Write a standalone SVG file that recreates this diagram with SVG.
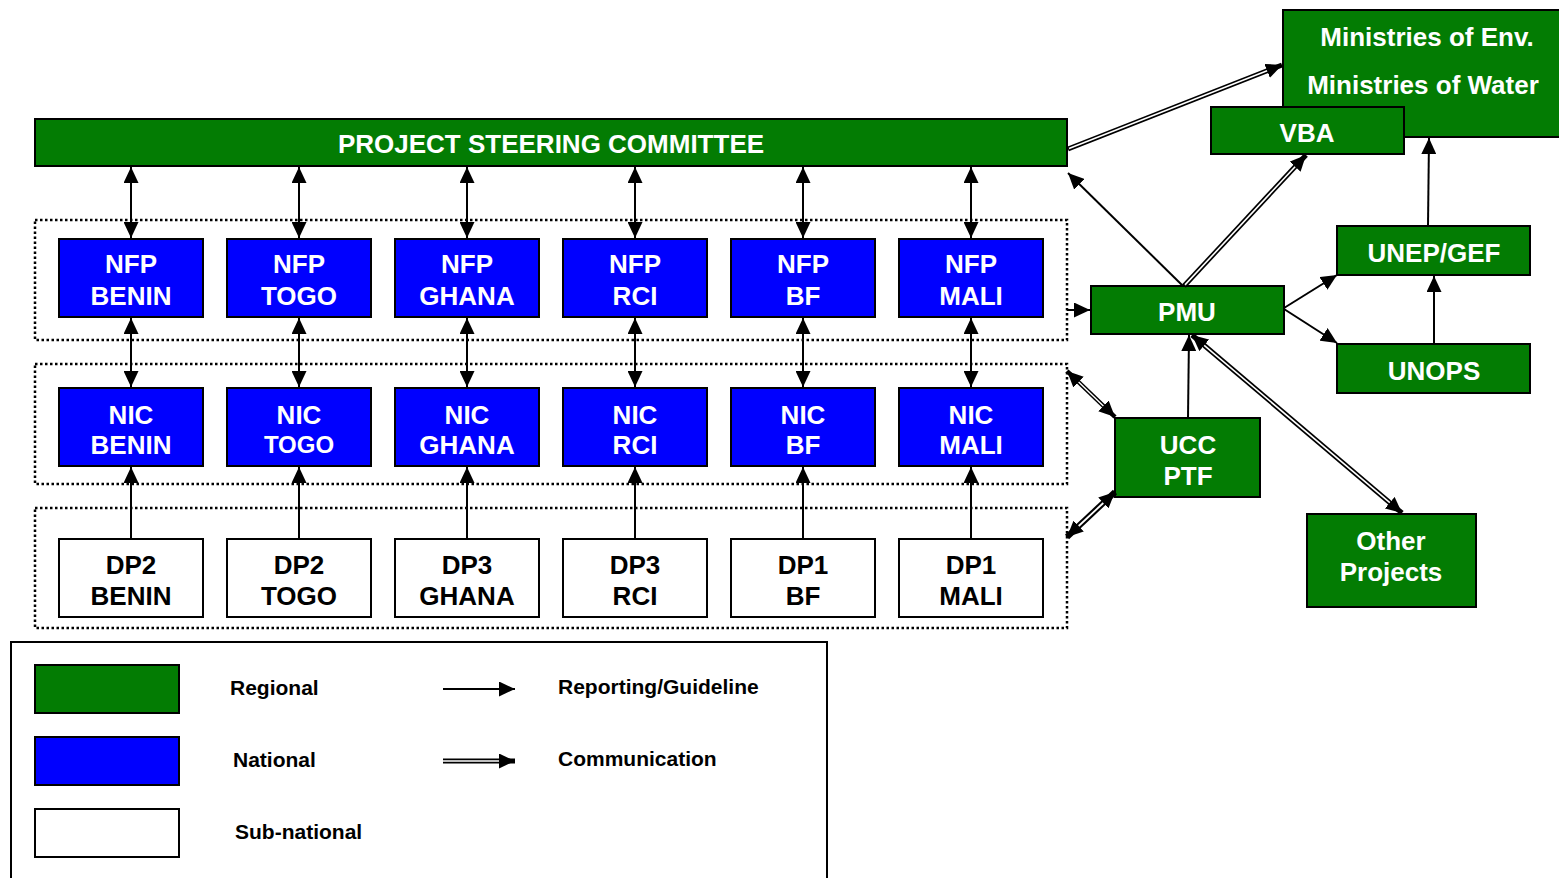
<svg xmlns="http://www.w3.org/2000/svg" width="1559" height="878" viewBox="0 0 1559 878">
<defs>
<style>
.g{fill:#037c03;stroke:#000;stroke-width:2}
.b{fill:#0000ff;stroke:#000;stroke-width:2}
.w{fill:#fff;stroke:#000;stroke-width:2}
.dot{fill:none;stroke:#000;stroke-width:2.5;stroke-dasharray:2.5 2.5}
.t{font-family:"Liberation Sans",Arial,sans-serif;font-weight:bold;font-size:26px;text-anchor:middle;fill:#fff}
.tk{fill:#000}
.lg{font-family:"Liberation Sans",Arial,sans-serif;font-weight:bold;font-size:21px;fill:#000}
.s{fill:none;stroke:#000;stroke-width:2}
.s1{marker-end:url(#ah)}
.s2{marker-start:url(#ah);marker-end:url(#ah)}
.dk{fill:none;stroke:#000;stroke-width:5}
.dw{fill:none;stroke:#fff;stroke-width:1.6}
</style>
<marker id="ah" markerUnits="userSpaceOnUse" markerWidth="16" markerHeight="15" refX="16" refY="7.5" orient="auto-start-reverse" viewBox="0 0 16 15">
<path d="M0,0 L16,7.5 L0,15 z" fill="#000"/>
</marker>
</defs>
<rect width="1559" height="878" fill="#fff"/>

<g id="groups">
<rect class="dot" x="35" y="220" width="1032" height="120"/>
<rect class="dot" x="35" y="364" width="1032" height="120"/>
<rect class="dot" x="35" y="508" width="1032" height="120"/>
</g>

<g id="psc"><rect class="g" x="35" y="119" width="1032" height="47"/><text class="t" x="551" y="153">PROJECT STEERING COMMITTEE</text></g>

<g id="nfp-benin"><rect class="b" x="59" y="239" width="144" height="78"/><text class="t" x="131" y="273">NFP</text><text class="t" x="131" y="305">BENIN</text></g>
<g id="nfp-togo"><rect class="b" x="227" y="239" width="144" height="78"/><text class="t" x="299" y="273">NFP</text><text class="t" x="299" y="305">TOGO</text></g>
<g id="nfp-ghana"><rect class="b" x="395" y="239" width="144" height="78"/><text class="t" x="467" y="273">NFP</text><text class="t" x="467" y="305">GHANA</text></g>
<g id="nfp-rci"><rect class="b" x="563" y="239" width="144" height="78"/><text class="t" x="635" y="273">NFP</text><text class="t" x="635" y="305">RCI</text></g>
<g id="nfp-bf"><rect class="b" x="731" y="239" width="144" height="78"/><text class="t" x="803" y="273">NFP</text><text class="t" x="803" y="305">BF</text></g>
<g id="nfp-mali"><rect class="b" x="899" y="239" width="144" height="78"/><text class="t" x="971" y="273">NFP</text><text class="t" x="971" y="305">MALI</text></g>

<g id="nic-benin"><rect class="b" x="59" y="388" width="144" height="78"/><text class="t" x="131" y="424">NIC</text><text class="t" x="131" y="454">BENIN</text></g>
<g id="nic-togo"><rect class="b" x="227" y="388" width="144" height="78"/><text class="t" x="299" y="424">NIC</text><text class="t" x="299" y="453" style="font-size:24px">TOGO</text></g>
<g id="nic-ghana"><rect class="b" x="395" y="388" width="144" height="78"/><text class="t" x="467" y="424">NIC</text><text class="t" x="467" y="454">GHANA</text></g>
<g id="nic-rci"><rect class="b" x="563" y="388" width="144" height="78"/><text class="t" x="635" y="424">NIC</text><text class="t" x="635" y="454">RCI</text></g>
<g id="nic-bf"><rect class="b" x="731" y="388" width="144" height="78"/><text class="t" x="803" y="424">NIC</text><text class="t" x="803" y="454">BF</text></g>
<g id="nic-mali"><rect class="b" x="899" y="388" width="144" height="78"/><text class="t" x="971" y="424">NIC</text><text class="t" x="971" y="454">MALI</text></g>

<g id="dp-benin"><rect class="w" x="59" y="539" width="144" height="78"/><text class="t tk" x="131" y="574">DP2</text><text class="t tk" x="131" y="605">BENIN</text></g>
<g id="dp-togo"><rect class="w" x="227" y="539" width="144" height="78"/><text class="t tk" x="299" y="574">DP2</text><text class="t tk" x="299" y="605">TOGO</text></g>
<g id="dp-ghana"><rect class="w" x="395" y="539" width="144" height="78"/><text class="t tk" x="467" y="574">DP3</text><text class="t tk" x="467" y="605">GHANA</text></g>
<g id="dp-rci"><rect class="w" x="563" y="539" width="144" height="78"/><text class="t tk" x="635" y="574">DP3</text><text class="t tk" x="635" y="605">RCI</text></g>
<g id="dp-bf"><rect class="w" x="731" y="539" width="144" height="78"/><text class="t tk" x="803" y="574">DP1</text><text class="t tk" x="803" y="605">BF</text></g>
<g id="dp-mali"><rect class="w" x="899" y="539" width="144" height="78"/><text class="t tk" x="971" y="574">DP1</text><text class="t tk" x="971" y="605">MALI</text></g>

<g id="ministries"><rect class="g" x="1283" y="10" width="280" height="127"/><text class="t" x="1427" y="46">Ministries of Env.</text><text class="t" x="1423" y="94">Ministries of Water</text></g>
<g id="vba"><rect class="g" x="1211" y="107" width="193" height="47"/><text class="t" x="1307" y="142">VBA</text></g>
<g id="pmu"><rect class="g" x="1091" y="286" width="193" height="48"/><text class="t" x="1187" y="321">PMU</text></g>
<g id="unep"><rect class="g" x="1337" y="226" width="193" height="49"/><text class="t" x="1434" y="262">UNEP/GEF</text></g>
<g id="unops"><rect class="g" x="1337" y="344" width="193" height="49"/><text class="t" x="1434" y="380">UNOPS</text></g>
<g id="ucc"><rect class="g" x="1115" y="418" width="145" height="79"/><text class="t" x="1188" y="454">UCC</text><text class="t" x="1188" y="485">PTF</text></g>
<g id="other"><rect class="g" x="1307" y="514" width="169" height="93"/><text class="t" x="1391" y="550">Other</text><text class="t" x="1391" y="581">Projects</text></g>

<g id="connectors">
<path class="s s2" d="M131,167 V238"/>
<path class="s s2" d="M299,167 V238"/>
<path class="s s2" d="M467,167 V238"/>
<path class="s s2" d="M635,167 V238"/>
<path class="s s2" d="M803,167 V238"/>
<path class="s s2" d="M971,167 V238"/>
<path class="s s2" d="M131,318 V387"/>
<path class="s s2" d="M299,318 V387"/>
<path class="s s2" d="M467,318 V387"/>
<path class="s s2" d="M635,318 V387"/>
<path class="s s2" d="M803,318 V387"/>
<path class="s s2" d="M971,318 V387"/>
<path class="s s1" d="M131,538 V467"/>
<path class="s s1" d="M299,538 V467"/>
<path class="s s1" d="M467,538 V467"/>
<path class="s s1" d="M635,538 V467"/>
<path class="s s1" d="M803,538 V467"/>
<path class="s s1" d="M971,538 V467"/>
<path class="s s1" d="M1183,286 L1068,173"/>
<path class="s s1" d="M1428,226 L1429,138"/>
<path class="s s1" d="M1284,308 L1337,275"/>
<path class="s s1" d="M1284,309 L1337,343"/>
<path class="s s1" d="M1434,344 V276"/>
<path class="s s1" d="M1188,418 L1189,335"/>
<path class="s s1" d="M1067,310 H1090"/>
<path class="dk s1" d="M1068,149 L1282,65"/>
<path class="dw" d="M1069,148.6 L1267.1,70.8"/>
<path class="dk s1" d="M1184,286 L1306,155"/>
<path class="dw" d="M1185,284.9 L1295.1,166.7"/>
<path class="dk s2" d="M1192,335 L1402,513"/>
<path class="dw" d="M1204.2,345.3 L1389.8,502.7"/>
<path class="dk s2" d="M1067,371 L1115,417" style="stroke-width:4.5"/>
<path class="dw" d="M1078.6,382.1 L1103.4,405.9" style="stroke-width:1.4"/>
<path class="dk s2" d="M1115,492 L1067,537" style="stroke-width:6"/>
<path class="dw" d="M1103.3,503 L1078.7,526" style="stroke-width:1.8"/>
</g>

<g id="legend">
<rect x="11" y="642" width="816" height="260" fill="none" stroke="#000" stroke-width="2"/>
<rect class="g" x="35" y="665" width="144" height="48"/>
<rect class="b" x="35" y="737" width="144" height="48"/>
<rect class="w" x="35" y="809" width="144" height="48"/>
<text class="lg" x="230" y="695">Regional</text>
<text class="lg" x="233" y="767">National</text>
<text class="lg" x="235" y="839">Sub-national</text>
<text class="lg" x="558" y="694">Reporting/Guideline</text>
<text class="lg" x="558" y="766">Communication</text>
<path class="s s1" d="M443,689 H515"/>
<path class="dk s1" d="M443,761 H515" style="stroke-width:5"/>
<path class="dw" d="M443,761 H499" style="stroke-width:1.4"/>
</g>
</svg>
